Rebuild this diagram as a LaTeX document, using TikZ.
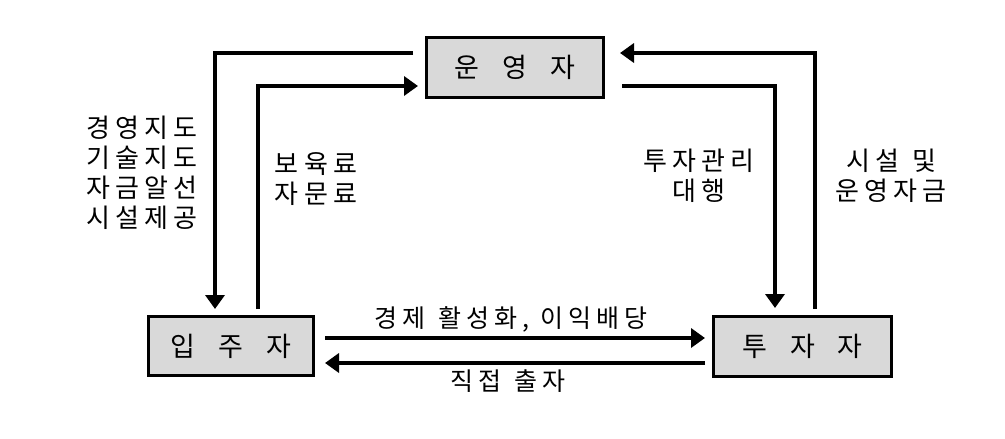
\documentclass[tikz,border=0pt]{standalone}
\usepackage{fontspec}
\setmainfont{Noto Sans CJK KR}
\newfontfamily\widekr[LetterSpace=20]{Noto Sans CJK KR}
\usetikzlibrary{arrows.meta}
\begin{document}
\begin{tikzpicture}[x=1pt,y=-1pt,
  boxst/.style={draw=black,line width=3pt,fill=black!15,inner sep=0pt,font=\fontsize{27}{30}\selectfont},
  arr/.style={line width=4pt,-{Triangle[length=14pt,width=19pt]}},
  lbl/.style={font=\widekr\fontsize{26}{30}\selectfont,align=center,inner sep=0pt},
  blbl/.style={font=\widekr\fontsize{25}{30}\selectfont,align=center,inner sep=0pt}]
\useasboundingbox (0,0) rectangle (1005,439);
\node[boxst,minimum width=177pt,minimum height=60pt] (op) at (515,67.5) {운\hspace{0.85em}영\hspace{0.85em}자};
\node[boxst,minimum width=165pt,minimum height=59pt] (ten) at (231,346) {입\hspace{0.85em}주\hspace{0.85em}자};
\node[boxst,minimum width=178pt,minimum height=60pt] (inv) at (802.5,346.5) {투\hspace{0.85em}자\hspace{0.85em}자};
% left loop
\draw[arr] ([xshift=-12pt]op.west |- 0,53) -| ([yshift=6pt]ten.north -| 215,0);
\draw[arr] ([yshift=6pt]ten.north -| 258,0) |- ([xshift=-7pt]op.west |- 0,86);
% right loop
\draw[arr] ([yshift=6pt]inv.north -| 815,0) |- ([xshift=15pt]op.east |- 0,53);
\draw[arr] ([xshift=17pt]op.east |- 0,86) -| ([yshift=7pt]inv.north -| 775,0);
% bottom
\draw[arr] ([xshift=10pt]ten.east |- 0,338) -- ([xshift=-7pt]inv.west |- 0,338);
\draw[arr] ([xshift=-7pt]inv.west |- 0,363) -- ([xshift=10pt]ten.east |- 0,363);
% labels
\node[lbl] (l1) at (142,173) {경영지도\\기술지도\\자금알선\\시설제공};
\node[lbl] (l2) at (316,179) {보육료\\자문료};
\node[lbl] (l3) at (699,176) {투자관리\\대행};
\node[lbl] (l4) at (891,176) {시설\hspace{0.5em}및\\운영자금};
\node[blbl] (l5) at (511,319) {경제\hspace{0.55em}활성화,\hspace{0.45em}이익배당};
\node[blbl] (l6) at (508,381) {직접\hspace{0.55em}출자};
\end{tikzpicture}
\end{document}
